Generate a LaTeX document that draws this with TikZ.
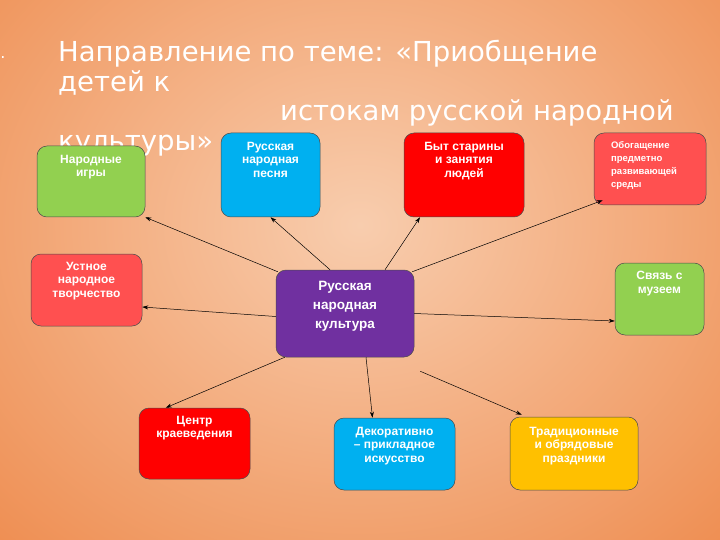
\documentclass[tikz,border=0pt]{standalone}
\usepackage{fontspec}
\setmainfont{Liberation Sans}
\newfontfamily\titlefont{DejaVu Sans}
\usetikzlibrary{arrows.meta}
\definecolor{bgout}{HTML}{EE8A4C}
\definecolor{bgin}{HTML}{F8CDAE}
\definecolor{cgreen}{HTML}{92D050}
\definecolor{cblue}{HTML}{00B0F0}
\definecolor{cred}{HTML}{FF0000}
\definecolor{cpink}{HTML}{FF5050}
\definecolor{cpurple}{HTML}{7030A0}
\definecolor{cgold}{HTML}{FFC000}
\tikzset{
  box/.style={draw=black!70, line width=0.5pt, rounded corners=10pt, inner sep=0pt},
  btxt/.style={text=white, font=\bfseries\fontsize{12}{13.5}\selectfont, align=center, anchor=north, inner sep=0pt},
  conn/.style={-{Stealth[length=6pt,width=4pt]}, line width=0.5pt, black}
}
\begin{document}
\begin{tikzpicture}[x=1pt,y=-1pt]
\useasboundingbox (0,0) rectangle (720,540);
\shade[outer color=bgout, inner color=bgin] (-200,-250) rectangle (920,700);
\node[text=white, font=\titlefont\fontsize{16}{16}\selectfont] (dot) at (3,58) {.};
\node[text=white, font=\titlefont\fontsize{27.5}{29.5}\selectfont, anchor=north west, align=left, inner sep=0pt] (title) at (58,40)
 {Направление по теме: «Приобщение\\детей к\\\hspace*{222pt}истокам русской народной\\культуры»};
\node[box, fill=cgreen, minimum width=108pt, minimum height=71pt] (igry) at (91,181.5) {};
\node[btxt] (igryt) at (91,155) {Народные\\игры};
\node[box, fill=cblue, minimum width=99pt, minimum height=84pt] (pesnya) at (270.5,175) {};
\node[btxt] (pesnyat) at (270.5,142) {Русская\\народная\\песня};
\node[box, fill=cred, minimum width=120pt, minimum height=84pt] (byt) at (464,175) {};
\node[btxt] (bytt) at (464,142) {Быт старины\\и занятия\\людей};
\node[box, fill=cpink, minimum width=112pt, minimum height=72pt] (obog) at (650,169) {};
\node[btxt, font=\bfseries\fontsize{9.5}{13}\selectfont, align=left] (obogt) at (644,141) {Обогащение\\предметно\\развивающей\\среды};
\node[box, fill=cpink, minimum width=111pt, minimum height=72pt] (ustn) at (86.5,290) {};
\node[btxt] (ustnt) at (86.5,262) {Устное\\народное\\творчество};
\node[box, fill=cpurple, minimum width=138pt, minimum height=87pt] (center) at (345,313.5) {};
\node[btxt, font=\bfseries\fontsize{13.5}{19}\selectfont] (centert) at (345,281) {Русская\\народная\\культура};
\node[box, fill=cgreen, minimum width=89pt, minimum height=72pt] (muz) at (659.5,299) {};
\node[btxt] (muzt) at (659.5,271) {Связь с\\музеем};
\node[box, fill=cred, minimum width=111pt, minimum height=71pt] (kraev) at (194.5,443.5) {};
\node[btxt] (kraevt) at (194.5,416) {Центр\\краеведения};
\node[box, fill=cblue, minimum width=121pt, minimum height=72pt] (dekor) at (394.5,454) {};
\node[btxt] (dekort) at (394.5,427) {Декоративно\\– прикладное\\искусство};
\node[box, fill=cgold, minimum width=128pt, minimum height=73pt] (trad) at (574,453.5) {};
\node[btxt] (tradt) at (574,427) {Традиционные\\и обрядовые\\праздники};
\draw[conn] (center.north west) ++(2,2) -- (igry.south east);
\draw[conn] (center.north) ++(-15,0) -- (pesnya.south);
\draw[conn] (center.north) ++(40,0) -- ([xshift=-44pt]byt.south);
\draw[conn] (center.north east) ++(-2,2) -- ([xshift=9pt,yshift=5pt]obog.south west);
\draw[conn] ([yshift=-3pt]center.west) -- ([yshift=-17pt]ustn.east);
\draw[conn] ([yshift=0pt]center.east) -- ([yshift=-22pt]muz.west);
\draw[conn] ([xshift=9pt]center.south west) -- ([xshift=27pt]kraev.north west);
\draw[conn] ([xshift=21pt]center.south) -- ([xshift=-22pt]dekor.north);
\draw[conn] ([xshift=6pt,yshift=-14pt]center.south east) -- ([xshift=12pt,yshift=2pt]trad.north west);
\end{tikzpicture}
\end{document}
